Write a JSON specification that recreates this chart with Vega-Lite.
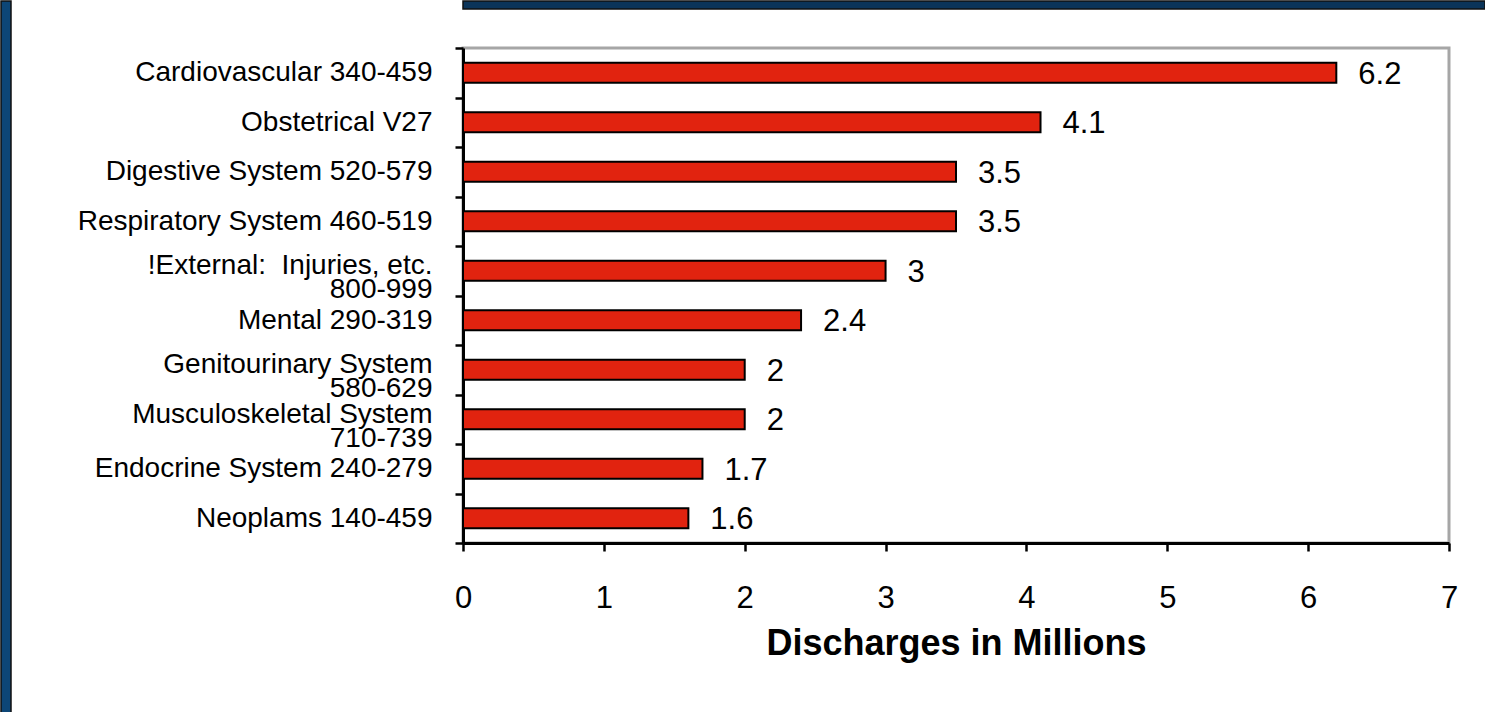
{
  "$schema": "https://vega.github.io/schema/vega-lite/v6.json",
  "background": "white",
  "padding": 0,
  "config": {"font": "Liberation Sans"},
  "spacing": 63,
  "hconcat": [
    {
      "data": {"values": [{"k": 1}]},
      "mark": {"type": "rect", "opacity": 0},
      "encoding": {},
      "width": 10,
      "height": 712,
      "view": {"fill": "#0d4677", "stroke": "#111", "strokeWidth": 1.5}
    },
    {
      "spacing": 22,
      "vconcat": [
        {
          "data": {"values": [{"k": 1}]},
          "mark": {"type": "rect", "opacity": 0},
          "encoding": {},
          "width": 1022,
          "height": 8,
          "view": {"fill": "#0b3459", "stroke": "#111", "strokeWidth": 1.5}
        },
        {
          "data": {"values": [
            {"category": "Cardiovascular 340-459", "value": 6.2},
            {"category": "Obstetrical V27", "value": 4.1},
            {"category": "Digestive System 520-579", "value": 3.5},
            {"category": "Respiratory System 460-519", "value": 3.5},
            {"category": "!External:\u00a0 Injuries, etc.|800-999", "value": 3.0},
            {"category": "Mental 290-319", "value": 2.4},
            {"category": "Genitourinary System|580-629", "value": 2.0},
            {"category": "Musculoskeletal System|710-739", "value": 2.0},
            {"category": "Endocrine System 240-279", "value": 1.7},
            {"category": "Neoplams 140-459", "value": 1.6}
          ]},
          "width": 986,
          "height": 495,
          "view": {"stroke": "#a6a6a6", "strokeWidth": 3},
          "encoding": {
            "y": {
              "field": "category",
              "type": "nominal",
              "sort": null,
              "scale": {"paddingInner": 0, "paddingOuter": 0},
              "axis": {
                "title": null,
                "domainColor": "#000",
                "domainWidth": 3,
                "tickColor": "#000",
                "tickWidth": 2.5,
                "tickSize": 8,
                "tickBand": "extent",
                "labelFontSize": 28,
                "labelColor": "#000",
                "labelPadding": 23,
                "labelLimit": 0,
                "labelExpr": "isString(datum.value) ? split(datum.value, '|') : ''",
                "labelLineHeight": 24,
                "labelOffset": {"condition": {"test": "isString(datum.value) && indexof(datum.value, '|') >= 0", "value": -5}, "value": 0}
              }
            }
          },
          "layer": [
            {
              "mark": {"type": "bar", "fill": "#e1230f", "stroke": "#000", "strokeWidth": 2, "height": {"band": 0.4}},
              "encoding": {
                "x": {
                  "field": "value",
                  "type": "quantitative",
                  "scale": {"domain": [0, 7], "nice": false},
                  "axis": {
                    "values": [0, 1, 2, 3, 4, 5, 6, 7],
                    "format": "d",
                    "title": "Discharges in Millions",
                    "titleFontSize": 36,
                    "titleFontWeight": "bold",
                    "titleColor": "#000",
                    "titlePadding": 13,
                    "grid": false,
                    "domainColor": "#000",
                    "domainWidth": 3,
                    "tickColor": "#000",
                    "tickWidth": 2.5,
                    "tickSize": 8,
                    "labelFontSize": 31,
                    "labelColor": "#000",
                    "labelPadding": 32,
                    "labelFlush": false,
                    "labelOverlap": false
                  }
                }
              }
            },
            {
              "mark": {"type": "text", "align": "left", "baseline": "middle", "dx": 22, "dy": 2, "fontSize": 31, "color": "#000"},
              "encoding": {
                "x": {"field": "value", "type": "quantitative"},
                "text": {"field": "value", "type": "quantitative", "format": ".2~f"}
              }
            }
          ]
        }
      ]
    }
  ]
}
